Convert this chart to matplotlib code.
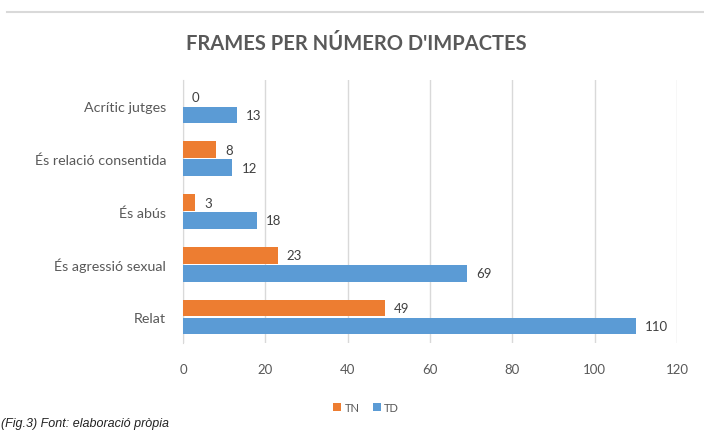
import numpy as np
import matplotlib.pyplot as plt
from matplotlib.lines import Line2D

categories = ["Relat", "És agressió sexual", "És abús", "És relació consentida", "Acrític jutges"]
tn_values = [49, 23, 3, 8, 0]
td_values = [110, 69, 18, 12, 13]
x_ticks = [0, 20, 40, 60, 80, 100, 120]

ORANGE = "#ED7D31"
BLUE = "#5B9BD5"
GRID = "#D9D9D9"
TEXT = "#595959"

plt.rcParams['font.family'] = ['Lato', 'DejaVu Sans']

fig = plt.figure(figsize=(7.04, 4.31), dpi=100)
ax = fig.add_axes([0.26, 0.201, 0.7017, 0.612])

y = np.arange(len(categories))
h = 0.32
off = 0.17
ax.barh(y + off, tn_values, height=h, color=ORANGE, label="TN", zorder=3)
ax.barh(y - off, td_values, height=h, color=BLUE, label="TD", zorder=3)

for yi, v in zip(y, tn_values):
    ax.text(v + 2.2, yi + off, str(v), va="center", ha="left", fontsize=9.5, color="#404040")
for yi, v in zip(y, td_values):
    ax.text(v + 2.2, yi - off, str(v), va="center", ha="left", fontsize=9.5, color="#404040")

ax.set_xlim(0, 120)
ax.set_ylim(-0.5, 4.5)
ax.set_xticks(x_ticks)
ax.set_yticks(y)
ax.set_yticklabels(categories, fontsize=10.3)
ax.tick_params(axis="both", length=0, colors=TEXT)
ax.tick_params(axis="x", pad=14, labelsize=9.5)
ax.tick_params(axis="y", pad=12)
ax.grid(axis="x", color=GRID, linewidth=1, zorder=0)
for s in ["top", "right", "bottom"]:
    ax.spines[s].set_visible(False)
ax.spines["left"].set_color(GRID)

fig.text(0.506, 0.898, "FRAMES PER NÚMERO D'IMPACTES", ha="center", va="center",
         fontsize=14.5, fontweight="bold", color=TEXT)

fig.add_artist(Line2D([0.01, 1.0], [0.97, 0.97], color=GRID, linewidth=1.5))

leg = fig.legend(loc="center", bbox_to_anchor=(0.52, 0.053), ncol=2, frameon=False,
                 fontsize=8, handlelength=0.7, handleheight=0.7, handletextpad=0.3,
                 columnspacing=1.2)
for t in leg.get_texts():
    t.set_color(TEXT)

fig.text(0.001, 0.016, "(Fig.3) Font: elaboració pròpia", ha="left", va="center",
         fontsize=9, style="italic", color="#222222", family=["Liberation Sans", "DejaVu Sans"])

fig.savefig("out.png", dpi=100)
